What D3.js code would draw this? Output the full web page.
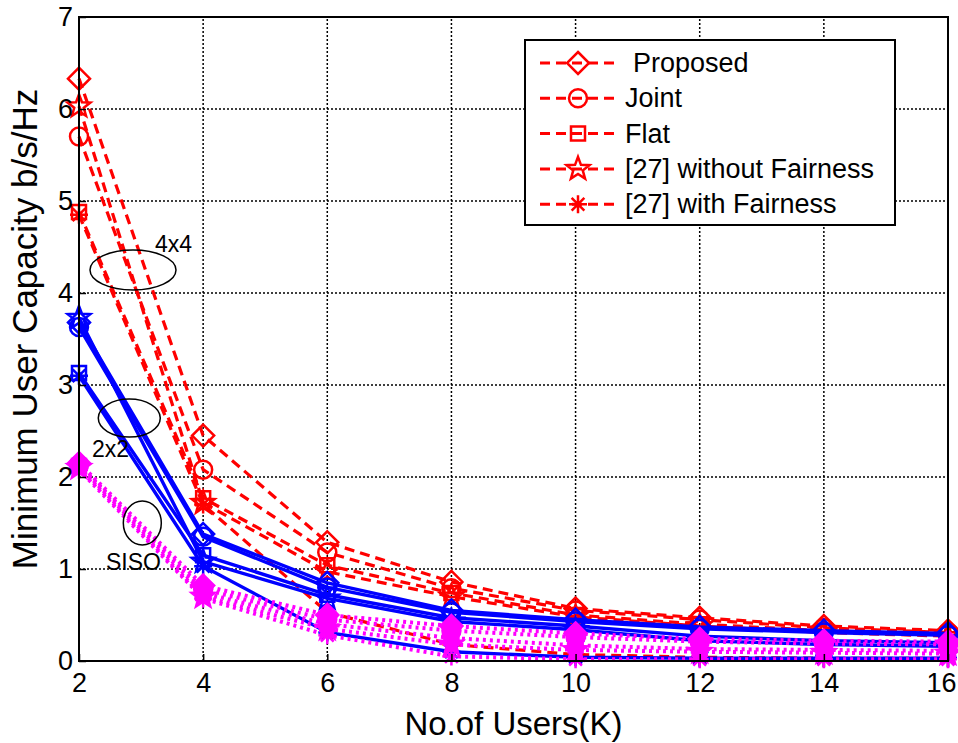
<!DOCTYPE html>
<html>
<head>
<meta charset="utf-8">
<script src="https://cdn.jsdelivr.net/npm/d3@7"></script>
<style>
  body { margin: 0; background: #fff; }
  text { font-family: "Liberation Sans", Arial, sans-serif; }
</style>
</head>
<body>
<script>
// number of users
const users = [2, 4, 6, 8, 10, 12, 14, 16];

// 4x4 (red dashed)
const proposed4 = [6.33, 2.45, 1.29, 0.86, 0.57, 0.47, 0.38, 0.33];
const joint4    = [5.70, 2.08, 1.18, 0.79, 0.55, 0.45, 0.36, 0.31];
const flat4     = [4.88, 1.77, 1.04, 0.74, 0.50, 0.40, 0.33, 0.29];
const without4  = [6.03, 1.72, 0.97, 0.70, 0.48, 0.38, 0.31, 0.27];
const with4     = [4.85, 1.70, 0.53, 0.18, 0.07, 0.04, 0.03, 0.03];

// 2x2 (blue solid)
const proposed2 = [3.68, 1.38, 0.85, 0.55, 0.45, 0.37, 0.33, 0.30];
const joint2    = [3.63, 1.35, 0.80, 0.53, 0.43, 0.35, 0.31, 0.28];
const flat2     = [3.13, 1.15, 0.72, 0.47, 0.38, 0.27, 0.22, 0.20];
const without2  = [3.73, 1.08, 0.68, 0.43, 0.34, 0.22, 0.18, 0.16];
const with2     = [3.10, 1.03, 0.31, 0.10, 0.04, 0.03, 0.03, 0.03];

// SISO (magenta dotted)
const proposed1 = [2.15, 0.82, 0.50, 0.38, 0.30, 0.24, 0.22, 0.21];
const joint1    = [2.13, 0.78, 0.45, 0.33, 0.26, 0.21, 0.19, 0.18];
const flat1     = [2.12, 0.74, 0.40, 0.25, 0.17, 0.13, 0.12, 0.11];
const without1  = [2.10, 0.70, 0.35, 0.18, 0.12, 0.10, 0.09, 0.08];
const with1     = [2.08, 0.68, 0.28, 0.05, 0.02, 0.02, 0.02, 0.02];

const schemes = ["Proposed", "Joint", "Flat", "[27] without Fairness", "[27] with Fairness"];
const markers = ["diamond", "circle", "square", "star", "asterisk"];
const xTicks = [2, 4, 6, 8, 10, 12, 14, 16];
const yTicks = [0, 1, 2, 3, 4, 5, 6, 7];

const groups = [
  { color: "#ff0000", dash: "10,6", width: 3.2, fill: "none", sets: [proposed4, joint4, flat4, without4, with4] },
  { color: "#0000ff", dash: null, width: 3.4, fill: "none", sets: [proposed2, joint2, flat2, without2, with2] },
  { color: "#ff00ff", dash: "3,4", width: 4, fill: "#ff00ff", sets: [proposed1, joint1, flat1, without1, with1] }
];

const W = 958, H = 743;
const margin = { left: 79, right: 10, top: 17, bottom: 82 };

const svg = d3.select("body").append("svg")
  .attr("width", W)
  .attr("height", H);

const x = d3.scaleLinear().domain([2, 16]).range([margin.left, W - margin.right]);
const y = d3.scaleLinear().domain([0, 7]).range([H - margin.bottom, margin.top]);

// marker path around (0,0)
function markerPath(type) {
  const p = d3.path();
  if (type == "diamond") {
    p.moveTo(0, -11); p.lineTo(11, 0); p.lineTo(0, 11); p.lineTo(-11, 0); p.closePath();
  } else if (type == "circle") {
    p.arc(0, 0, 9, 0, 2 * Math.PI);
  } else if (type == "square") {
    p.rect(-7, -7, 14, 14);
  } else if (type == "star") {
    for (let i = 0; i < 10; i++) {
      const r = i % 2 == 0 ? 12 : 5;
      const a = -Math.PI / 2 + i * Math.PI / 5;
      if (i == 0) p.moveTo(r * Math.cos(a), r * Math.sin(a));
      else p.lineTo(r * Math.cos(a), r * Math.sin(a));
    }
    p.closePath();
  } else {
    for (let i = 0; i < 4; i++) {
      const a = i * Math.PI / 4;
      p.moveTo(-9 * Math.cos(a), -9 * Math.sin(a));
      p.lineTo(9 * Math.cos(a), 9 * Math.sin(a));
    }
  }
  return p.toString();
}

// grid
const grid = svg.append("g");
grid.selectAll(".gx").data(xTicks.slice(1, -1)).enter().append("line")
  .attr("x1", d => x(d)).attr("x2", d => x(d))
  .attr("y1", y(0)).attr("y2", y(7))
  .attr("stroke", "#000").attr("stroke-width", 1.5).attr("stroke-dasharray", "2,2");
grid.selectAll(".gy").data(yTicks.slice(1, -1)).enter().append("line")
  .attr("x1", x(2)).attr("x2", x(16))
  .attr("y1", d => y(d)).attr("y2", d => y(d))
  .attr("stroke", "#000").attr("stroke-width", 1.5).attr("stroke-dasharray", "2,2");

// series
const line = d3.line().x((d, i) => x(users[i])).y(d => y(d));

groups.forEach(g => {
  const gg = svg.append("g");
  g.sets.forEach((vals, j) => {
    gg.append("path")
      .attr("d", line(vals))
      .attr("fill", "none")
      .attr("stroke", g.color)
      .attr("stroke-width", g.width)
      .attr("stroke-dasharray", g.dash);
    gg.selectAll(null).data(vals).enter().append("path")
      .attr("transform", (d, i) => `translate(${x(users[i])},${y(d)})`)
      .attr("d", markerPath(markers[j]))
      .attr("fill", markers[j] == "asterisk" ? "none" : g.fill)
      .attr("stroke", g.color)
      .attr("stroke-width", 2.5);
  });
});

// axes box
svg.append("rect")
  .attr("x", x(2)).attr("y", y(7))
  .attr("width", x(16) - x(2)).attr("height", y(0) - y(7))
  .attr("fill", "none").attr("stroke", "#000").attr("stroke-width", 2);

const xAxis = svg.append("g")
  .attr("transform", `translate(0,${y(0)})`)
  .call(d3.axisBottom(x).tickValues(xTicks).tickSize(-7).tickPadding(12).tickFormat(d3.format("d")));
const yAxis = svg.append("g")
  .attr("transform", `translate(${x(2)},0)`)
  .call(d3.axisLeft(y).tickValues(yTicks).tickSize(-7).tickPadding(6).tickFormat(d3.format("d")));
[xAxis, yAxis].forEach(a => {
  a.select(".domain").remove();
  a.selectAll(".tick line").attr("stroke-width", 1.5);
  a.selectAll("text").attr("font-size", 27).attr("fill", "#000")
    .style("font-family", "Liberation Sans, Arial, sans-serif");
});
// keep the last label inside the picture
xAxis.selectAll(".tick text").filter(d => d == 16)
  .attr("text-anchor", "end").attr("x", 8);

// axis titles
svg.append("text")
  .attr("x", (x(2) + x(16)) / 2)
  .attr("y", 735)
  .attr("text-anchor", "middle")
  .attr("font-size", 33)
  .text("No.of Users(K)");
svg.append("text")
  .attr("transform", `translate(37,${(y(0) + y(7)) / 2 - 10}) rotate(-90)`)
  .attr("text-anchor", "middle")
  .attr("font-size", 35)
  .text("Minimum User Capacity b/s/Hz");

// annotations
const notes = [
  { label: "4x4", cx: 2.87, cy: 4.25, rx: 43, ry: 20, tx: 155, ty: 252 },
  { label: "2x2", cx: 2.81, cy: 2.64, rx: 31, ry: 19, tx: 92, ty: 457 },
  { label: "SISO", cx: 3.02, cy: 1.5, rx: 19, ry: 22, tx: 106, ty: 570 }
];
notes.forEach(n => {
  svg.append("ellipse")
    .attr("cx", x(n.cx)).attr("cy", y(n.cy))
    .attr("rx", n.rx).attr("ry", n.ry)
    .attr("fill", "none").attr("stroke", "#000").attr("stroke-width", 1.5);
  svg.append("text")
    .attr("x", n.tx).attr("y", n.ty)
    .attr("font-size", 23)
    .text(n.label);
});

// legend
const legend = svg.append("g").attr("transform", "translate(525,40)");
legend.append("rect")
  .attr("width", 370).attr("height", 185)
  .attr("fill", "#fff").attr("stroke", "#000").attr("stroke-width", 2);
schemes.forEach((s, i) => {
  const ly = 23 + i * 35.3;
  legend.append("line")
    .attr("x1", 15).attr("x2", 90).attr("y1", ly).attr("y2", ly)
    .attr("stroke", "#ff0000").attr("stroke-width", 3).attr("stroke-dasharray", "10,6");
  legend.append("path")
    .attr("transform", `translate(53,${ly})`)
    .attr("d", markerPath(markers[i]))
    .attr("fill", "none").attr("stroke", "#ff0000").attr("stroke-width", 2.5);
  legend.append("text")
    .attr("x", i == 0 ? 108 : 100).attr("y", ly + 9)
    .attr("font-size", 27)
    .text(s);
});
</script>
</body>
</html>
